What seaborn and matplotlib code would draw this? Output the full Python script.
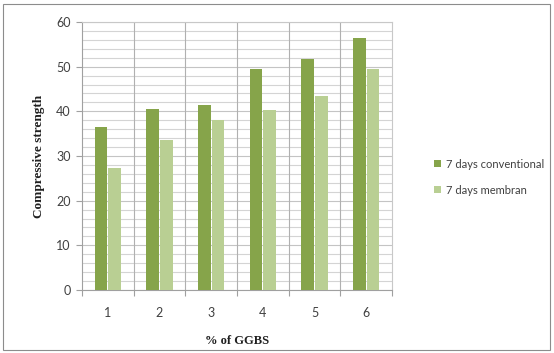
import matplotlib
matplotlib.use("Agg")
import matplotlib.pyplot as plt
from matplotlib.patches import Rectangle
from matplotlib.ticker import MultipleLocator, FixedLocator
import seaborn as sns
import pandas as pd

categories = ["1", "2", "3", "4", "5", "6"]
conventional = [36.4, 40.5, 41.4, 49.4, 51.7, 56.4]
membran = [27.3, 33.5, 38.0, 40.4, 43.5, 49.4]
series_names = ["7 days conventional", "7 days membran"]
colors = ["#86a44a", "#b9cf93"]

df = pd.DataFrame({
    "cat": categories * 2,
    "val": conventional + membran,
    "series": [series_names[0]] * len(categories) + [series_names[1]] * len(categories),
})

sns.set_theme(style="white")
plt.rcParams["font.family"] = ["Lato", "DejaVu Sans"]

fig = plt.figure(figsize=(5.54, 3.53), dpi=100)
ax = fig.add_axes([82/554, 63/353, 310/554, 268/353])

sns.barplot(data=df, x="cat", y="val", hue="series", palette=colors,
            width=0.53, gap=0.06, ax=ax, saturation=1, legend=True,
            edgecolor="none", zorder=3)

ax.set_ylim(0, 60)
ax.set_xlim(-0.5, 5.5)
ax.yaxis.set_major_locator(MultipleLocator(10))
ax.yaxis.set_minor_locator(MultipleLocator(2))
ax.grid(which="major", axis="y", color="#c4c4c4", lw=0.8, zorder=0)
ax.grid(which="minor", axis="y", color="#d4d4d4", lw=0.8, zorder=0)
for b in [0.5, 1.5, 2.5, 3.5, 4.5]:
    ax.axvline(b, color="#b0b0b0", lw=0.8, zorder=1)

ax.xaxis.set_minor_locator(FixedLocator([-0.5, 0.5, 1.5, 2.5, 3.5, 4.5, 5.5]))
ax.tick_params(axis="x", which="major", length=0, labelsize=9, pad=12, colors="#404040")
ax.tick_params(axis="x", which="minor", length=4, color="#a0a0a0", width=0.8, bottom=True)
ax.tick_params(axis="y", which="major", length=4, color="#a0a0a0", width=0.8, left=True,
               labelsize=9, pad=4, labelcolor="#404040")
ax.tick_params(axis="y", which="minor", length=0)

for s in ["left", "bottom"]:
    ax.spines[s].set_color("#a0a0a0")
    ax.spines[s].set_linewidth(0.8)
for s in ["top", "right"]:
    ax.spines[s].set_color("#c8c8c8")
    ax.spines[s].set_linewidth(0.8)

ax.set_xlabel("% of GGBS", fontfamily="Liberation Serif", fontweight="bold",
              fontsize=9, labelpad=12, color="#202020")
ax.set_ylabel("Compressive strength", fontfamily="Liberation Serif", fontweight="bold",
              fontsize=9.5, labelpad=8, color="#202020")

handles, labels = ax.get_legend_handles_labels()
ax.legend(handles, labels, loc="center left", bbox_to_anchor=(424/554, 176/353),
          bbox_transform=fig.transFigure, frameon=False, fontsize=8,
          handlelength=0.6, handleheight=0.6, handletextpad=0.5,
          labelspacing=1.35, labelcolor="#404040")

fig.patches.append(Rectangle((3/554, 3/353), 547/554, 346/353, transform=fig.transFigure,
                             fill=False, edgecolor="#8c8c8c", lw=0.8))

fig.savefig("out.png", dpi=100)
